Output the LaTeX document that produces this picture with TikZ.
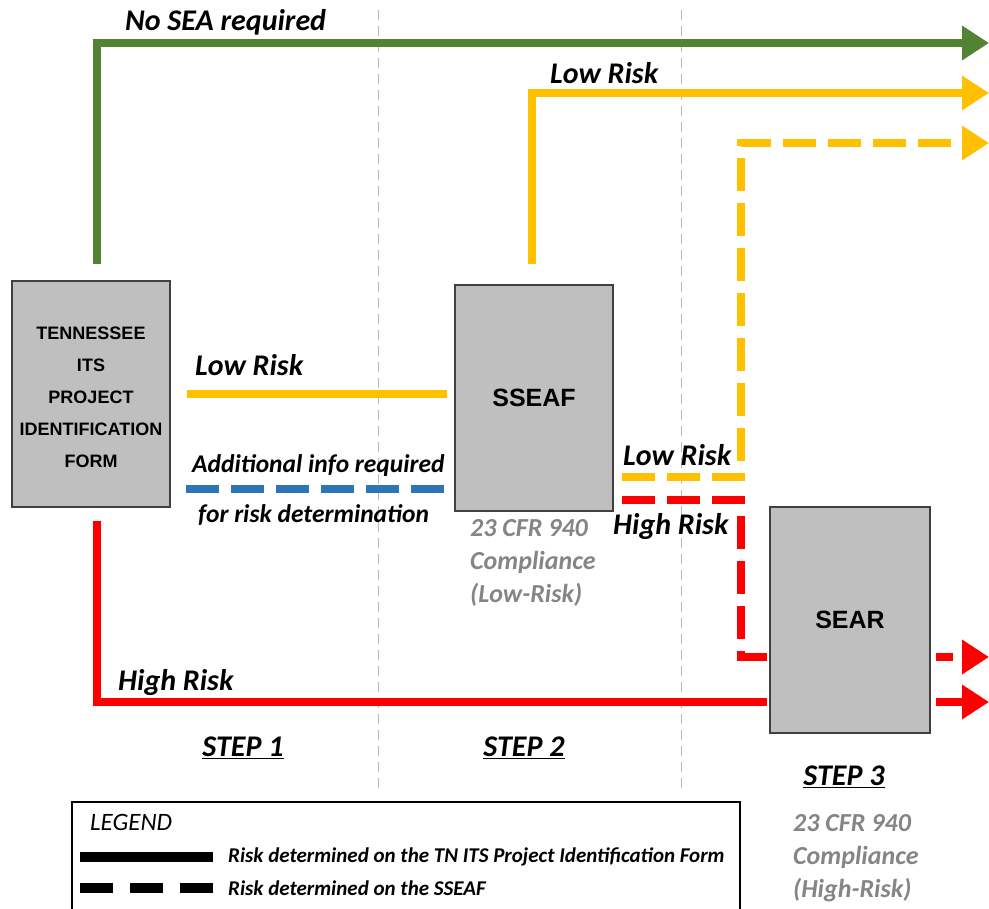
\documentclass[tikz,border=0pt]{standalone}
\usepackage{fontspec}
\setmainfont{Carlito}
\newfontfamily\arialfont{Liberation Sans}
\usetikzlibrary{arrows.meta}

\definecolor{seagreen}{HTML}{548235}
\definecolor{riskorange}{HTML}{FFC000}
\definecolor{infoblue}{HTML}{2E75B6}
\definecolor{riskred}{HTML}{FF0000}
\definecolor{boxgray}{HTML}{BFBFBF}
\definecolor{notegray}{HTML}{858585}

\begin{document}
\begin{tikzpicture}[x=1pt,y=-1pt,
    formbox/.style={draw=black!75,line width=1.5pt,fill=boxgray,minimum width=158pt,
      minimum height=226pt,inner sep=0pt,align=center,
      font=\arialfont\bfseries\fontsize{18}{32}\selectfont},
    bigname/.style={font=\arialfont\bfseries\fontsize{25}{30}\selectfont},
    flow/.style={line width=8pt},
    tip/.style={-{Triangle[length=27pt,width=33pt]}},
    dashes/.style={dash pattern=on 33pt off 12pt},
    lbl/.style={anchor=west,inner sep=0pt,font=\bfseries\itshape\fontsize{30}{33}\selectfont},
    smalllbl/.style={lbl,font=\bfseries\itshape\fontsize{25.5}{30}\selectfont},
    legtext/.style={anchor=west,inner sep=0pt,font=\bfseries\itshape\fontsize{21}{24}\selectfont},
    note/.style={anchor=north west,inner sep=0pt,align=left,text=notegray,
      font=\bfseries\itshape\fontsize{26}{33}\selectfont},
    stepsep/.style={gray!55,line width=1pt,dash pattern=on 10pt off 6pt}]
  \useasboundingbox (0,0) rectangle (989,909);

  % step separators
  \draw[stepsep] (378,10) -- (378,790);
  \draw[stepsep] (681,10) -- (681,790);

  % boxes
  \node[formbox] (tn) at (91,394) {};
  \node[align=center,inner sep=0pt,font=\arialfont\bfseries\fontsize{18}{32}\selectfont]
    (tnText) at ([yshift=-3pt]tn.center) {TENNESSEE\\ITS\\PROJECT\\IDENTIFICATION\\FORM};
  \node[formbox,bigname] (sseaf) at (534,398) {SSEAF};
  \node[formbox,bigname,minimum width=160pt] (sear) at (850,620) {SEAR};

  % arrow ends and bends
  \coordinate (endA) at (989,43);
  \coordinate (endB) at (989,93);
  \coordinate (endC) at (989,143);
  \coordinate (endD) at (989,657);
  \coordinate (endE) at (989,702);
  \coordinate (infoA) at (186,489);
  \coordinate (infoB) at (448,489);
  \coordinate (sLow) at (622,477);
  \coordinate (sHigh) at (622,500);
  \coordinate (lowBend) at (741,143);
  \coordinate (highBend) at (741,657);
  \coordinate (highRow) at (97,702);

  % no SEA
  \draw[flow,seagreen,tip] ([xshift=6pt,yshift=16pt]tn.north) |- (endA);
  \node[lbl] (noseaLbl) at (125,22) {No SEA required};

  % step 1 -> step 2
  \draw[flow,riskorange] ([xshift=16pt]tn.east) -- ([xshift=-7pt]tn.east -| sseaf.west);
  \node[lbl] (lowLbl) at (195,365) {Low Risk};
  \draw[flow,infoblue,dashes] (infoA) -- (infoB);
  \node[smalllbl] (infoLbl) at (192,466) {Additional info required};
  \node[smalllbl] (infoLblB) at (198,515) {for risk determination};

  % out of SSEAF
  \draw[flow,riskorange,tip] ([xshift=-2pt,yshift=20pt]sseaf.north) |- (endB);
  \node[lbl] (lowTopLbl) at (550,73) {Low Risk};
  \draw[flow,riskorange,dashes,tip] (sLow) -| (lowBend) -- (endC);
  \node[lbl] (lowDashLbl) at (623,455) {Low Risk};
  \draw[flow,riskred,dashes] (sHigh) -| (highBend) -- ([xshift=-2pt]highBend -| sear.west);
  \node[lbl] (highDashLbl) at (613,527) {High Risk};

  % high risk straight to SEAR
  \draw[flow,riskred] ([xshift=6pt,yshift=-13pt]tn.south) |- ([xshift=-2pt]highRow -| sear.west);
  \node[lbl] (highLbl) at (118,683) {High Risk};

  % out of SEAR
  \draw[flow,riskred,dash pattern=on 17pt off 10pt,tip] ([xshift=5pt]highBend -| sear.east) -- (endD);
  \draw[flow,riskred,tip] ([xshift=5pt]highRow -| sear.east) -- (endE);

  % steps and notes
  \node[lbl,anchor=center] (stepA) at (243,748) {\underline{STEP 1}};
  \node[lbl,anchor=center] (stepB) at (524,748) {\underline{STEP 2}};
  \node[lbl,anchor=center] (stepC) at (844,777) {\underline{STEP 3}};
  \node[note] (noteLow) at (470,519) {23 CFR 940\\Compliance\\(Low-Risk)};
  \node[note] (noteHigh) at (793,814) {23 CFR 940\\Compliance\\(High-Risk)};

  % legend
  \draw[line width=2pt] (72,909) |- (740,802) -- (740,909);
  \node[anchor=west,inner sep=0pt,font=\itshape\fontsize{25}{28}\selectfont] (legTitle) at (90,822) {LEGEND};
  \coordinate (solidA) at (80,857);
  \coordinate (solidB) at (213,857);
  \coordinate (dashA) at (80,888);
  \coordinate (dashB) at (213,888);
  \draw[line width=10pt] (solidA) -- (solidB);
  \draw[line width=10pt,dash pattern=on 33pt off 17pt] (dashA) -- (dashB);
  \node[legtext] (legSolid) at (228,857) {Risk determined on the TN ITS Project Identification Form};
  \node[legtext] (legDash) at (228,888) {Risk determined on the SSEAF};
\end{tikzpicture}
\end{document}
